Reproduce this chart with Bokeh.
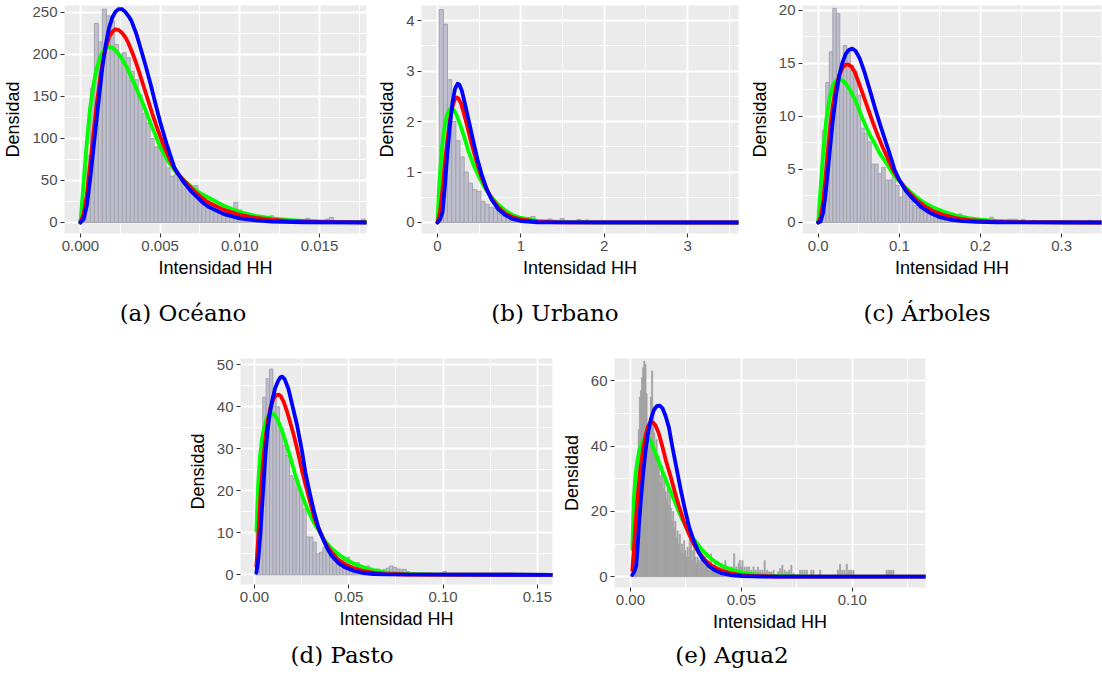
from bokeh.plotting import figure
from bokeh.models import FixedTicker, Range1d, Div, Spacer, NumeralTickFormatter
from bokeh.layouts import row, column
from bokeh.embed import file_html
from bokeh.resources import INLINE

# ---------------- texts ----------------
captions = ["(a) Océano", "(b) Urbano", "(c) Árboles", "(d) Pasto", "(e) Agua2"]
x_title = "Intensidad HH"
y_title = "Densidad"

# ---------------- panel (a) Océano ----------------
a_xticks = [0, 0.005, 0.01, 0.015]
a_xlabels = ["0.000", "0.005", "0.010", "0.015"]
a_xminor = [0.0025, 0.0075, 0.0125, 0.0175]
a_yticks = [0, 50, 100, 150, 200, 250]
a_ylabels = ["0", "50", "100", "150", "200", "250"]
a_yminor = [25, 75, 125, 175, 225]
a_bin_width = 0.00025
a_bin_start = 0.0
a_hist = [3, 25, 80, 160, 237, 215, 254, 246, 240, 212, 200, 202, 196, 180, 170, 152, 130, 118, 100, 90,
          95, 80, 65, 55, 57, 55, 46, 44, 43, 44, 35, 30, 26, 22, 18, 15, 14, 12, 13, 24,
          15, 10, 8, 7, 6, 5, 4, 5, 8, 4, 3, 2, 5, 2, 2, 1, 2, 5, 1, 1,
          2, 1, 4, 6, 1, 0, 1, 0, 1, 0, 0.5, 4, 1]
a_green_x = [0, 0.0002, 0.0004, 0.0006, 0.0008, 0.001, 0.0012, 0.0014, 0.0016, 0.0018, 0.002, 0.0023, 0.0026,
             0.0029, 0.0032, 0.0035, 0.0038, 0.0041, 0.0044, 0.0047, 0.005, 0.0054, 0.0059, 0.0065, 0.007,
             0.0075, 0.008, 0.0086, 0.009, 0.0095, 0.01, 0.011, 0.012, 0.013, 0.014, 0.015, 0.016, 0.018]
a_green_y = [0, 48, 95, 135, 162, 182, 195, 203, 207, 209, 208, 203, 195, 185, 173, 160, 147, 133, 118, 104,
             90, 76, 62, 50, 42, 35, 30, 24, 20, 16, 12.5, 8, 5, 3, 2, 1.2, 0.8, 0.3]
a_red_x = [0, 0.0002, 0.0004, 0.0006, 0.0008, 0.001, 0.0012, 0.0014, 0.0016, 0.0018, 0.002, 0.0022, 0.0024,
           0.0026, 0.0028, 0.003, 0.0033, 0.0036, 0.0039, 0.0042, 0.0045, 0.0049, 0.0053, 0.0057, 0.0061,
           0.0065, 0.007, 0.0075, 0.008, 0.009, 0.01, 0.011, 0.012, 0.013, 0.015, 0.018]
a_red_y = [0, 10, 33, 68, 103, 138, 167, 192, 209, 221, 227, 230, 229, 226, 221, 214, 200, 184, 166, 148,
           130, 108, 88, 71, 58, 50, 40, 31, 24, 15, 9, 5.5, 3.3, 2, 0.8, 0.2]
a_blue_x = [0, 0.0002, 0.0004, 0.0006, 0.0008, 0.001, 0.0012, 0.0014, 0.0016, 0.0018, 0.002, 0.0022, 0.0024,
            0.0026, 0.0028, 0.003, 0.0032, 0.0035, 0.0038, 0.0041, 0.0044, 0.0047, 0.005, 0.0054, 0.0059,
            0.0064, 0.007, 0.0076, 0.008, 0.009, 0.01, 0.011, 0.012, 0.014, 0.018]
a_blue_y = [0, 4, 20, 50, 85, 120, 155, 188, 213, 232, 244, 251, 254, 254, 251, 246, 240, 225, 206, 186,
            165, 142, 120, 94, 65, 50, 36, 25, 19, 10, 5, 2.5, 1.2, 0.3, 0]

# ---------------- panel (b) Urbano ----------------
b_xticks = [0, 1, 2, 3]
b_xlabels = ["0", "1", "2", "3"]
b_xminor = [0.5, 1.5, 2.5, 3.5]
b_yticks = [0, 1, 2, 3, 4]
b_ylabels = ["0", "1", "2", "3", "4"]
b_yminor = [0.5, 1.5, 2.5, 3.5]
b_bin_width = 0.05
b_bin_start = 0.045
b_hist = [4.22, 3.93, 2.83, 2.0, 1.62, 1.3, 1.0, 0.78, 0.65, 0.62,
          0.42, 0.36, 0.3, 0.28, 0.18, 0.14, 0.1, 0.07, 0.06, 0.04,
          0.05, 0.1, 0.12, 0.06, 0.05, 0.04, 0.07, 0.03, 0.03, 0.08,
          0.02, 0.01, 0.02, 0.06, 0.01, 0.05, 0.01, 0, 0, 0.01,
          0, 0, 0, 0, 0.02]
b_green_x = [0, 0.02, 0.05, 0.08, 0.11, 0.14, 0.17, 0.2, 0.23, 0.27, 0.32, 0.37, 0.43, 0.49, 0.55, 0.61, 0.7,
             0.81, 0.9, 1.0, 1.2, 1.5, 2.0, 3.7]
b_green_y = [0, 0.75, 1.45, 1.85, 2.12, 2.23, 2.26, 2.22, 2.12, 1.95, 1.7, 1.42, 1.15, 0.93, 0.74, 0.58, 0.4,
             0.24, 0.15, 0.09, 0.03, 0.01, 0, 0]
b_red_x = [0, 0.03, 0.06, 0.09, 0.12, 0.15, 0.18, 0.21, 0.23, 0.25, 0.28, 0.31, 0.35, 0.41, 0.47, 0.53, 0.59,
           0.65, 0.73, 0.81, 0.9, 1.0, 1.2, 1.5, 3.7]
b_red_y = [0, 0.2, 0.65, 1.2, 1.65, 2.02, 2.3, 2.45, 2.48, 2.46, 2.37, 2.2, 1.95, 1.55, 1.2, 0.89, 0.66,
           0.47, 0.3, 0.18, 0.11, 0.06, 0.015, 0.003, 0]
b_blue_x = [0, 0.03, 0.06, 0.09, 0.12, 0.15, 0.18, 0.21, 0.24, 0.26, 0.29, 0.33, 0.38, 0.43, 0.48, 0.53, 0.59,
            0.65, 0.73, 0.81, 0.9, 1.0, 1.2, 3.7]
b_blue_y = [0, 0.06, 0.2, 0.75, 1.4, 1.95, 2.38, 2.65, 2.75, 2.74, 2.62, 2.35, 1.98, 1.6, 1.25, 0.95, 0.66,
            0.45, 0.26, 0.15, 0.07, 0.03, 0.005, 0]

# ---------------- panel (c) Árboles ----------------
c_xticks = [0, 0.1, 0.2, 0.3]
c_xlabels = ["0.0", "0.1", "0.2", "0.3"]
c_xminor = [0.05, 0.15, 0.25, 0.35]
c_yticks = [0, 5, 10, 15, 20]
c_ylabels = ["0", "5", "10", "15", "20"]
c_yminor = [2.5, 7.5, 12.5, 17.5]
c_bin_width = 0.0043
c_bin_start = 0.00295
c_hist = [1.5, 8.7, 13.2, 16.1, 20.2, 19.7, 15.0, 16.7, 16.2, 14.8,
          14.3, 12.0, 8.9, 8.4, 7.6, 5.5, 5.5, 4.6, 5.2, 4.0,
          4.0, 4.3, 3.5, 2.4, 3.3, 2.5, 2.0, 1.6, 1.4, 1.1,
          1.0, 0.8, 0.7, 0.6, 0.5, 0.4, 0.4, 0.3, 0.8, 0.5,
          0.8, 0.3, 0.2, 0.3, 0.3, 0.2, 0.1, 0.1, 0.1, 0.5,
          0.2, 0.1, 0.0, 0.1, 0.3, 0.3, 0.3, 0.0, 0.3, 0.0,
          0.0, 0.2, 0, 0, 0, 0, 0, 0, 0, 0,
          0, 0, 0, 0, 0, 0, 0, 0.2]
c_green_x = [0, 0.003, 0.006, 0.01, 0.014, 0.018, 0.022, 0.026, 0.03, 0.034, 0.04, 0.046, 0.052, 0.058, 0.064,
             0.07, 0.076, 0.084, 0.092, 0.1, 0.109, 0.12, 0.13, 0.142, 0.155, 0.17, 0.185, 0.2, 0.22, 0.25,
             0.3, 0.35]
c_green_y = [0, 3.3, 6.5, 9.7, 11.8, 12.9, 13.4, 13.5, 13.4, 13.1, 12.4, 11.5, 10.3, 9.2, 8.2,
             7.4, 6.5, 5.6, 4.6, 3.9, 3.2, 2.45, 1.9, 1.4, 1.0, 0.65, 0.42, 0.27, 0.15, 0.06,
             0.02, 0.005]
c_red_x = [0, 0.003, 0.006, 0.009, 0.012, 0.015, 0.018, 0.022, 0.026, 0.03, 0.034, 0.037, 0.041, 0.045, 0.05,
           0.056, 0.062, 0.068, 0.074, 0.08, 0.086, 0.092, 0.1, 0.109, 0.12, 0.13, 0.142, 0.155, 0.17, 0.187,
           0.21, 0.24, 0.35]
c_red_y = [0, 0.5, 1.9, 4.2, 6.8, 9.1, 11.0, 12.8, 13.9, 14.6, 14.9, 14.9, 14.7, 14.2, 13.2,
           11.9, 10.6, 9.3, 8.1, 7.0, 6.0, 5.0, 3.95, 3.05, 2.2, 1.6, 1.05, 0.7, 0.42, 0.23,
           0.1, 0.03, 0]
c_blue_x = [0, 0.003, 0.006, 0.009, 0.012, 0.015, 0.018, 0.022, 0.026, 0.03, 0.034, 0.038, 0.042, 0.046, 0.051,
            0.057, 0.064, 0.07, 0.076, 0.082, 0.088, 0.094, 0.1, 0.108, 0.117, 0.127, 0.138, 0.15, 0.162, 0.178,
            0.195, 0.22, 0.35]
c_blue_y = [0, 0.1, 0.9, 2.6, 4.9, 7.3, 9.6, 12.0, 13.9, 15.1, 15.9, 16.3, 16.4, 16.2, 15.5,
            14.2, 12.4, 10.8, 9.3, 7.9, 6.5, 5.0, 4.0, 3.0, 2.2, 1.45, 0.9, 0.5, 0.28, 0.13,
            0.06, 0.02, 0]

# ---------------- panel (d) Pasto ----------------
d_xticks = [0, 0.05, 0.1, 0.15]
d_xlabels = ["0.00", "0.05", "0.10", "0.15"]
d_xminor = [0.025, 0.075, 0.125]
d_yticks = [0, 10, 20, 30, 40, 50]
d_ylabels = ["0", "10", "20", "30", "40", "50"]
d_yminor = [5, 15, 25, 35, 45]
d_bin_width = 0.00177
d_bin_start = 0.001765
d_hist = [12, 30, 42.3, 46.7, 49, 43, 40, 35, 30.8, 28.4,
          23.6, 22.9, 20.5, 18.5, 15.7, 9.0, 9.0, 7.8, 5.0, 5.4,
          6.6, 5.8, 5.0, 4.6, 3.8, 3.8, 3.4, 4.2, 2.2, 1.8,
          2.9, 2.2, 1.8, 2.1, 1.6, 1.3, 1.4, 1.0, 1.3, 1.6,
          2.1, 1.8, 1.4, 1.3, 1.3, 0.8, 0.5, 0.3, 0.3, 0.2,
          0.3, 0.2, 0.2, 0.1, 0.2, 0.4, 0.8, 0.3, 0.3, 0.0,
          0.3, 0.0, 0.0, 0.3, 0, 0, 0, 0, 0, 0,
          0, 0, 0, 0, 0, 0, 0, 0, 0, 0, 0.3]
d_green_x = [0.001, 0.002, 0.003, 0.004, 0.005, 0.0065, 0.0085, 0.0105, 0.0125, 0.0147, 0.017, 0.019, 0.0215,
             0.0235, 0.026, 0.0288, 0.0315, 0.034, 0.0375, 0.041, 0.0445, 0.048, 0.0525, 0.057, 0.063,
             0.0695, 0.078, 0.087, 0.1, 0.158]
d_green_y = [10.5, 22, 28.5, 32.3, 34.8, 37.3, 38.5, 38.2, 36.7, 34.2, 31, 28, 24,
             21.2, 18, 14.9, 12.4, 10.6, 8.0, 6.2, 4.9, 3.8, 2.7, 1.9, 1.1,
             0.6, 0.3, 0.15, 0.05, 0]
d_red_x = [0.001, 0.002, 0.0032, 0.0045, 0.0058, 0.0072, 0.0085, 0.01, 0.0115, 0.0128, 0.014, 0.0155, 0.0172,
           0.019, 0.021, 0.023, 0.0253, 0.0275, 0.0297, 0.032, 0.034, 0.0375, 0.041, 0.0445, 0.048,
           0.0525, 0.057, 0.063, 0.0695, 0.08, 0.158]
d_red_y = [2, 9, 19, 26.5, 32.4, 37, 39.8, 41.8, 42.8, 42.9, 42.5, 41.2, 39,
           36.2, 33.0, 29.3, 24.6, 20.7, 17.0, 13.2, 11.0, 7.6, 5.3, 3.6, 2.5,
           1.6, 1.0, 0.5, 0.25, 0.08, 0]
d_blue_x = [0.001, 0.002, 0.0032, 0.0045, 0.0058, 0.007, 0.0082, 0.0094, 0.011, 0.0126, 0.0137, 0.0147, 0.016,
            0.018, 0.02, 0.0226, 0.025, 0.027, 0.0292, 0.0315, 0.0338, 0.036, 0.0385, 0.041, 0.0445,
            0.048, 0.0525, 0.057, 0.063, 0.07, 0.158]
d_blue_y = [0.5, 3.5, 10.2, 19.5, 28.4, 34.5, 38.6, 41.5, 44.5, 46.2, 47, 47.2, 46.6,
            44.3, 40.5, 35.6, 30.0, 24.4, 19.7, 15.2, 11.4, 8.9, 6.4, 4.5, 2.8,
            1.8, 1.0, 0.5, 0.2, 0.1, 0]

# ---------------- panel (e) Agua2 ----------------
e_xticks = [0, 0.05, 0.1]
e_xlabels = ["0.00", "0.05", "0.10"]
e_xminor = [0.025, 0.075, 0.125]
e_yticks = [0, 20, 40, 60]
e_ylabels = ["0", "20", "40", "60"]
e_yminor = [10, 30, 50]
e_bin_width = 0.0005
e_bin_start = 0.00125
e_hist = [10, 18, 28, 32, 36, 45, 55, 57, 61, 64,
          66, 65, 56, 46, 40, 43, 55, 63, 52, 44,
          38, 42, 35, 37, 31, 29, 34, 27, 30, 26,
          24, 27, 22, 25, 21, 17, 20, 15, 17, 12,
          14, 10, 13, 8, 10, 7, 11, 8, 6, 9,
          6, 12, 13, 5, 8, 10, 6, 4, 6, 5,
          4, 8, 7, 4, 3, 6, 4, 3, 2, 4,
          7, 3, 3, 2, 5, 3, 2, 3, 2, 4,
          2, 3, 2, 5, 2, 3, 2, 3, 2, 3,
          2, 7, 2, 3, 2, 4, 5, 3]
e_tail_x = [0.0505, 0.0515, 0.0525, 0.0535, 0.0545, 0.0555, 0.0565, 0.0575, 0.0585, 0.0595, 0.0605, 0.0615,
            0.0625, 0.0635, 0.0645, 0.0665, 0.0675, 0.0685, 0.0695, 0.0705, 0.0715, 0.0725, 0.0735, 0.0765,
            0.0775, 0.0785, 0.0795, 0.0815, 0.0825, 0.0855, 0.0935, 0.0945, 0.0955, 0.0965, 0.0975, 0.0985,
            0.0995, 0.1005, 0.1155, 0.1165, 0.1175, 0.1185]
e_tail_h = [5, 3, 3, 3, 2, 3, 2, 3, 2, 2, 5, 2,
            1.5, 1.5, 2, 1.5, 2.5, 3.5, 2, 1.5, 2, 3.5, 1, 2,
            2, 2, 2, 2, 2, 2, 2, 3.8, 2, 2, 3.8, 2,
            2, 2, 2, 2, 2, 2]
e_green_x = [0.0008, 0.0015, 0.0022, 0.003, 0.004, 0.0053, 0.0065, 0.0075, 0.0087, 0.0098, 0.0113, 0.0128,
             0.0143, 0.0158, 0.0176, 0.0195, 0.0214, 0.0233, 0.0255, 0.0278, 0.03, 0.0323, 0.035, 0.0383,
             0.042, 0.0459, 0.051, 0.0564, 0.064, 0.0714, 0.085, 0.133]
e_green_y = [8.4, 23.8, 30.5, 35, 38.8, 41.2, 42.5, 42.7, 42, 40.4, 37.8, 35,
             32.4, 29.9, 26.8, 23.8, 20.6, 17.6, 14.6, 12.2, 10.2, 8.2, 6.3, 4.5,
             3.1, 2.1, 1.2, 0.7, 0.3, 0.15, 0.04, 0]
e_red_x = [0.0008, 0.0015, 0.0023, 0.0034, 0.0045, 0.0057, 0.0068, 0.0079, 0.009, 0.0102, 0.0113, 0.0128,
           0.0143, 0.016, 0.018, 0.0199, 0.0218, 0.024, 0.0263, 0.0285, 0.0308, 0.0338, 0.0368, 0.0405,
           0.0444, 0.05, 0.0564, 0.065, 0.133]
e_red_y = [2, 8, 16.6, 25.5, 33, 39, 43.2, 46, 47.3, 47.2, 46.3, 43.8,
           40.1, 35.5, 30.9, 26.2, 21.7, 17.1, 13.2, 10.0, 7.4, 5.0, 3.3, 2.0,
           1.2, 0.5, 0.2, 0.06, 0]
e_blue_x = [0.0008, 0.0017, 0.0026, 0.0032, 0.0038, 0.0047, 0.0056, 0.0068, 0.008, 0.0092, 0.0105, 0.0118,
            0.0132, 0.0145, 0.0158, 0.0173, 0.0188, 0.0207, 0.0226, 0.0245, 0.0263, 0.0285, 0.0308, 0.033,
            0.0353, 0.038, 0.0414, 0.046, 0.0504, 0.06, 0.133]
e_blue_y = [0.5, 1.5, 3.3, 8.5, 15.6, 23.5, 30.9, 38.5, 44.2, 48.2, 50.9, 52.2,
            52.4, 51.5, 49.3, 45.8, 40.1, 33.5, 26.8, 20.8, 15.6, 11.0, 7.4, 5.0,
            3.3, 2.0, 1.0, 0.4, 0.2, 0.05, 0]

# ---------------- styling ----------------
PANEL_BG = "#EBEBEB"
HIST_FILL = "#BEBECF"
HIST_LINE = "#A4A4AC"
HIST_SOLID = "#A2A2A2"
GREEN, RED, BLUE = "#00FF00", "#FF0000", "#0000FF"
SANS = "Liberation Sans"
SERIF = "DejaVu Serif"


def make_panel(xr, yr, xt, xl, xm, yt, yl, ym, xfmt, fw, fh, bl, bt, br, bb):
    p = figure(x_range=Range1d(*xr), y_range=Range1d(*yr), frame_width=fw, frame_height=fh,
               min_border_left=bl, min_border_top=bt, min_border_right=br, min_border_bottom=bb,
               output_backend="svg", toolbar_location=None)
    p.background_fill_color = PANEL_BG
    p.border_fill_color = "white"
    p.outline_line_color = None
    p.xaxis.ticker = FixedTicker(ticks=xt, minor_ticks=xm)
    p.yaxis.ticker = FixedTicker(ticks=yt, minor_ticks=ym)
    p.xaxis.formatter = NumeralTickFormatter(format=xfmt)
    p.yaxis.formatter = NumeralTickFormatter(format="0")
    p.xaxis.major_label_overrides = dict(zip(xt, xl))
    p.yaxis.major_label_overrides = dict(zip(yt, yl))
    for ax in (p.xaxis[0], p.yaxis[0]):
        ax.axis_line_color = None
        ax.major_tick_line_color = "#333333"
        ax.major_tick_line_width = 1
        ax.major_tick_out = 4
        ax.major_tick_in = 0
        ax.minor_tick_line_color = None
        ax.major_label_text_font = SANS
        ax.major_label_text_font_size = "15px"
        ax.major_label_text_color = "#4D4D4D"
        ax.major_label_standoff = 3
        ax.axis_label_text_font = SANS
        ax.axis_label_text_font_size = "18px"
        ax.axis_label_text_font_style = "normal"
        ax.axis_label_text_color = "black"
    p.xaxis.axis_label = x_title
    p.xaxis.axis_label_standoff = 4
    p.yaxis.axis_label = y_title
    p.yaxis.axis_label_standoff = 6
    for g in (p.xgrid[0], p.ygrid[0]):
        g.grid_line_color = "white"
        g.grid_line_width = 1.8
        g.minor_grid_line_color = "white"
        g.minor_grid_line_width = 0.9
    return p


def add_hist(p, centers, heights, bw, solid=False):
    left = [c - bw / 2 for c in centers]
    right = [c + bw / 2 for c in centers]
    if solid:
        p.quad(left=left, right=right, bottom=0, top=heights, fill_color=HIST_SOLID,
               line_color=HIST_SOLID, line_width=0.8)
    else:
        p.quad(left=left, right=right, bottom=0, top=heights, fill_color=HIST_FILL,
               line_color=HIST_LINE, line_width=1)


def add_curves(p, gx, gy, rx, ry, bx, by):
    for xs, ys, col in ((gx, gy, GREEN), (rx, ry, RED), (bx, by, BLUE)):
        p.line(xs, ys, line_color=col, line_width=3.8, line_join="round", line_cap="round")


def centers(start, bw, n):
    return [start + bw * k for k in range(n)]


# (a)
pa = make_panel((-0.001, 0.01795), (-13.1, 258.3), a_xticks, a_xlabels, a_xminor, a_yticks, a_ylabels,
                a_yminor, "0.000", 302, 228, 63, 5, 3, 50)
add_hist(pa, centers(a_bin_start, a_bin_width, len(a_hist)), a_hist, a_bin_width)
add_curves(pa, a_green_x, a_green_y, a_red_x, a_red_y, a_blue_x, a_blue_y)

# (b)
pb = make_panel((-0.192, 3.61), (-0.218, 4.30), b_xticks, b_xlabels, b_xminor, b_yticks, b_ylabels,
                b_yminor, "0", 317, 228, 52, 5, 3, 50)
add_hist(pb, centers(b_bin_start, b_bin_width, len(b_hist)), b_hist, b_bin_width)
add_curves(pb, b_green_x, b_green_y, b_red_x, b_red_y, b_blue_x, b_blue_y)

# (c)
pc = make_panel((-0.0193, 0.349), (-1.04, 20.47), c_xticks, c_xlabels, c_xminor, c_yticks, c_ylabels,
                c_yminor, "0.0", 299, 228, 61, 5, 2, 50)
add_hist(pc, centers(c_bin_start, c_bin_width, len(c_hist)), c_hist, c_bin_width)
add_curves(pc, c_green_x, c_green_y, c_red_x, c_red_y, c_blue_x, c_blue_y)

# (d)
pd_ = make_panel((-0.0074, 0.158), (-2.3, 51.5), d_xticks, d_xlabels, d_xminor, d_yticks, d_ylabels,
                 d_yminor, "0.00", 312, 226, 57, 18, 4, 50)
add_hist(pd_, centers(d_bin_start, d_bin_width, len(d_hist)), d_hist, d_bin_width)
add_curves(pd_, d_green_x, d_green_y, d_red_x, d_red_y, d_blue_x, d_blue_y)

# (e)
pe = make_panel((-0.0072, 0.133), (-3.3, 66.8), e_xticks, e_xlabels, e_xminor, e_yticks, e_ylabels,
                e_yminor, "0.00", 311, 229, 58, 15, 5, 50)
add_hist(pe, centers(e_bin_start, e_bin_width, len(e_hist)) + e_tail_x, e_hist + e_tail_h,
         e_bin_width, solid=True)
add_curves(pe, e_green_x, e_green_y, e_red_x, e_red_y, e_blue_x, e_blue_y)


def caption(text, width, height, pad_top, pad_left=0):
    html = ("<div style=\"width:%dpx;margin-left:%dpx;text-align:center;padding-top:%dpx;"
            "font-family:'%s';font-size:23px;line-height:26px;color:#000;white-space:nowrap;\">%s</div>"
            ) % (width - pad_left, pad_left, pad_top, SERIF, text)
    return Div(text=html, width=width, height=height, margin=0)


row1 = row(pa, pb, pc)
caps1 = row(caption(captions[0], 366, 57, 17), caption(captions[1], 378, 57, 17),
            caption(captions[2], 358, 57, 17, pad_left=8))
row2 = row(Spacer(width=183, height=294), pd_, pe)
caps2 = row(Spacer(width=190, height=44), caption(captions[3], 304, 44, 8), caption(captions[4], 476, 44, 8))

layout = column(row1, caps1, row2, caps2)

open("out.html", "w").write(file_html(layout, INLINE))
